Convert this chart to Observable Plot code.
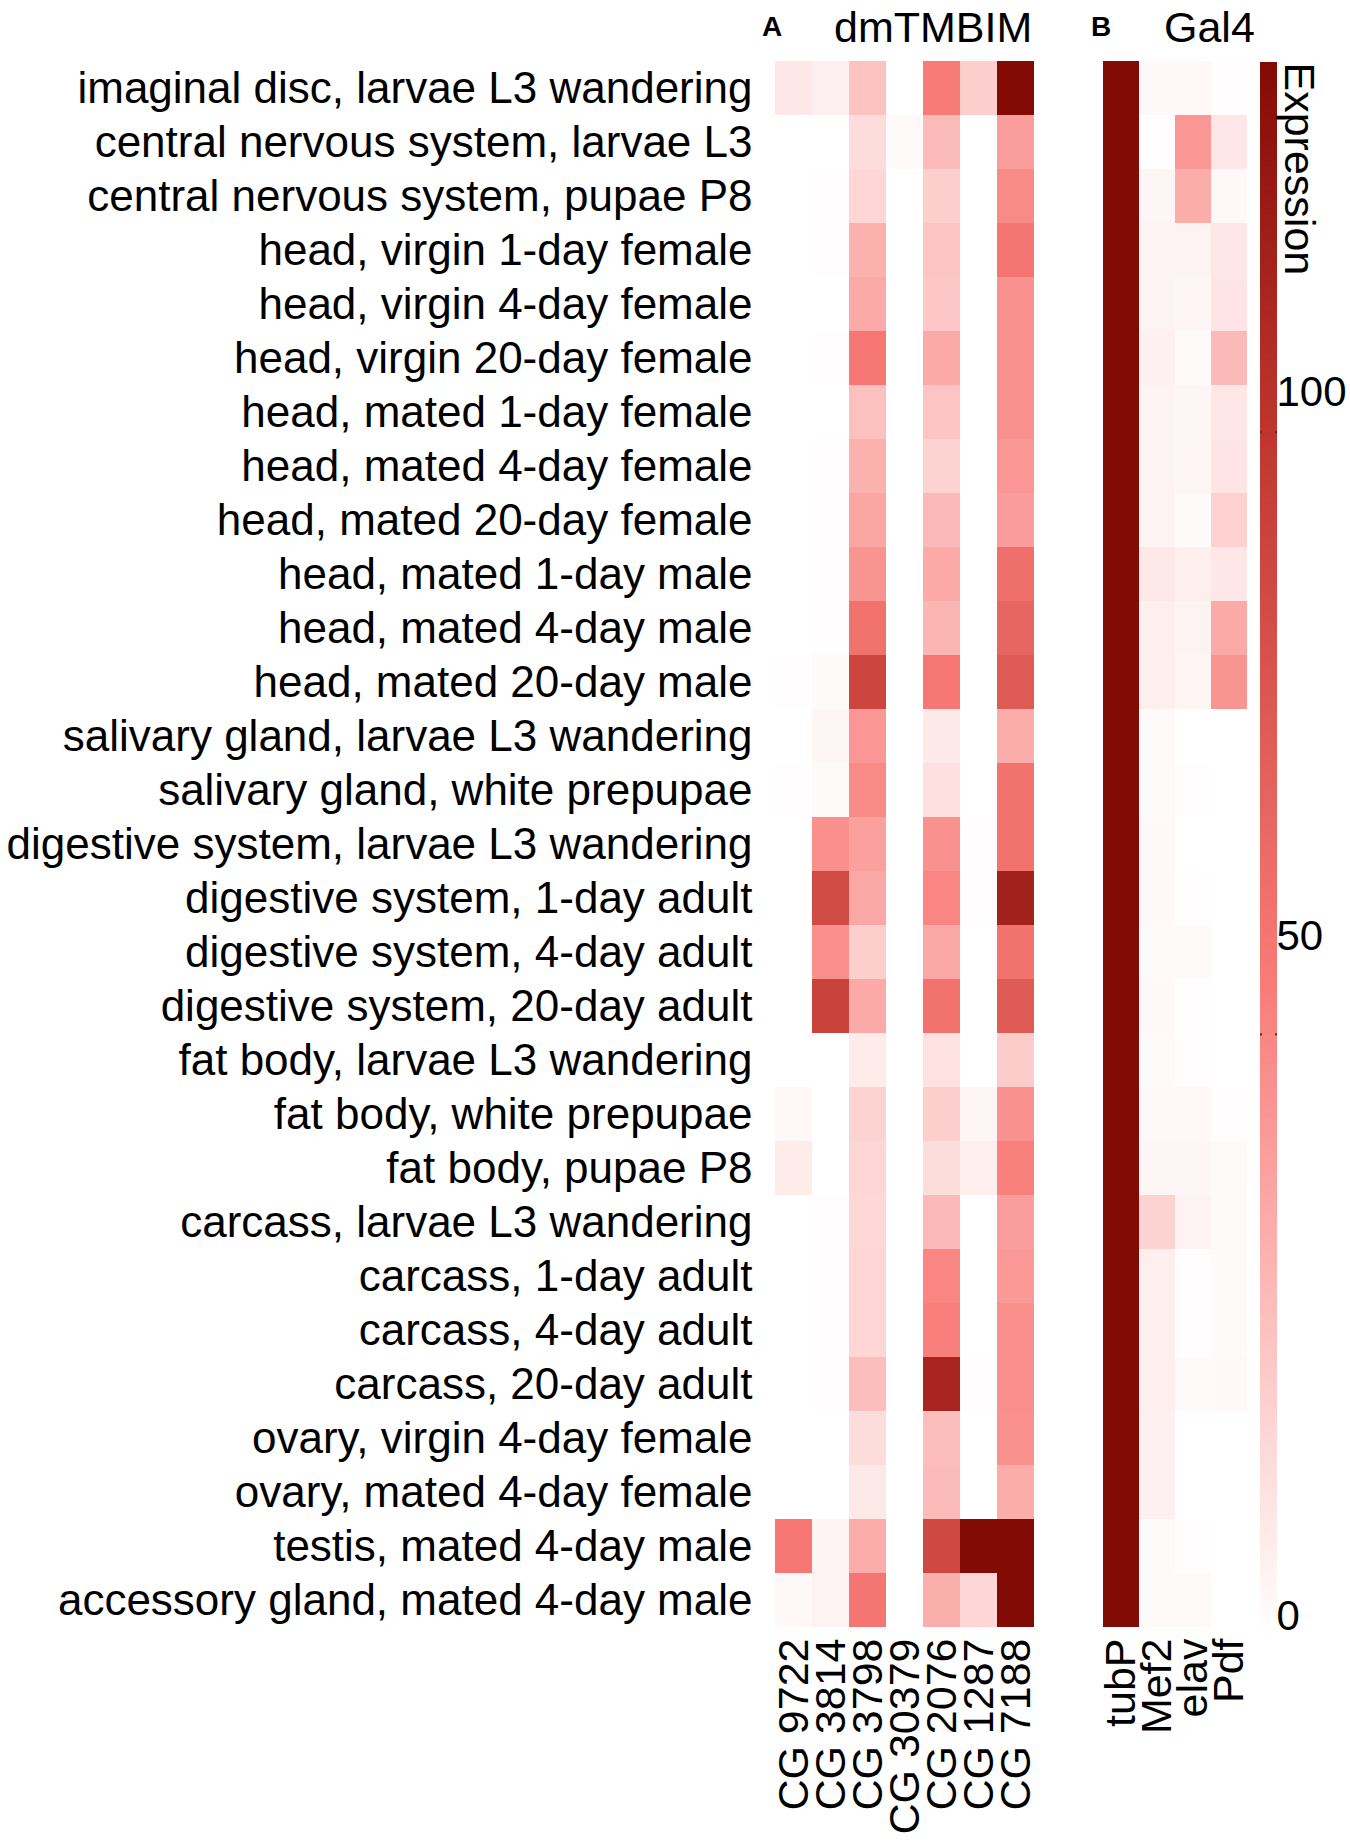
<!DOCTYPE html>
<html>
<head>
<meta charset="utf-8">
<script src="https://cdn.jsdelivr.net/npm/d3@7"></script>
<script src="https://cdn.jsdelivr.net/npm/@observablehq/plot@0.6"></script>
<style>
  html, body { margin: 0; padding: 0; background: #fff; }
  #wrap { position: relative; width: 1350px; height: 1842px; background: #fff; overflow: hidden;
          font-family: "Liberation Sans", Arial, sans-serif; color: #000; }
  .abs { position: absolute; line-height: 1; white-space: nowrap; color: #000; }
  .panel { position: absolute; top: 0; }
</style>
</head>
<body>
<div id="wrap"></div>
<script>
// ---------- data ----------
const tissues = [
  "imaginal disc, larvae L3 wandering",
  "central nervous system, larvae L3",
  "central nervous system, pupae P8",
  "head, virgin 1-day female",
  "head, virgin 4-day female",
  "head, virgin 20-day female",
  "head, mated 1-day female",
  "head, mated 4-day female",
  "head, mated 20-day female",
  "head, mated 1-day male",
  "head, mated 4-day male",
  "head, mated 20-day male",
  "salivary gland, larvae L3 wandering",
  "salivary gland, white prepupae",
  "digestive system, larvae L3 wandering",
  "digestive system, 1-day adult",
  "digestive system, 4-day adult",
  "digestive system, 20-day adult",
  "fat body, larvae L3 wandering",
  "fat body, white prepupae",
  "fat body, pupae P8",
  "carcass, larvae L3 wandering",
  "carcass, 1-day adult",
  "carcass, 4-day adult",
  "carcass, 20-day adult",
  "ovary, virgin 4-day female",
  "ovary, mated 4-day female",
  "testis, mated 4-day male",
  "accessory gland, mated 4-day male"
];

const genesA = ["CG 9722", "CG 3814", "CG 3798", "CG 30379", "CG 2076", "CG 1287", "CG 7188"];
const genesB = ["tubP", "Mef2", "elav", "Pdf"];

// expression per gene, in tissue order
const cg9722  = [10,0,0,0,0,0,0,0,0,0,0,1,0,1,0,0,0,0,0,3,8,0,0,0,0,0,0,57,3];
const cg3814  = [6,0,1,1,0,1,0,1,1,1,1,2,4,2,46,86,46,92,0,0,0,1,1,1,1,0,0,5,5];
const cg3798  = [25,14,17,32,35,57,26,32,37,44,60,90,43,48,39,36,20,35,8,18,17,16,17,17,27,14,9,34,58];
const cg30379 = [0,2,0,0,0,0,0,0,0,0,0,0,0,0,0,0,0,0,0,0,0,0,0,0,0,0,0,0,0];
const cg2076  = [55,28,20,24,23,35,24,18,29,35,30,57,9,13,45,50,36,60,12,20,14,29,50,53,112,27,28,88,33];
const cg1287  = [20,0,0,0,0,0,0,0,0,0,0,0,0,0,1,1,0,0,0,4,7,0,0,0,1,0,0,131,17];
const cg7188  = [131,40,48,58,45,45,45,43,41,62,68,76,34,60,60,115,60,75,21,45,52,40,42,46,46,45,34,131,131];

const tubP = [131,131,131,131,131,131,131,131,131,131,131,131,131,131,131,131,131,131,131,131,131,131,131,131,131,131,131,131,131];
const mef2 = [3,1,4,5,5,6,5,5,5,9,7,7,2,2,3,3,2,3,2,3,4,18,7,7,7,6,6,2,2];
const elav = [3,43,34,5,4,2,4,4,2,7,5,4,0,1,0,1,2,1,1,3,4,5,1,1,2,0,0,1,2];
const pdf  = [1,10,3,10,11,29,10,11,19,10,35,44,0,0,0,0,0,0,0,1,2,2,2,2,3,0,0,0,0];

const legendTicks = [0, 50, 100];
const legendMax = 130.7;
const legendTitle = "Expression";
const titleA = "dmTMBIM", tagA = "A";
const titleB = "Gal4", tagB = "B";

// ---------- tables ----------
const seriesA = [cg9722, cg3814, cg3798, cg30379, cg2076, cg1287, cg7188];
const seriesB = [tubP, mef2, elav, pdf];
function table(genes, series) {
  const out = [];
  tissues.forEach((t, i) => genes.forEach((g, j) => out.push({tissue: t, gene: g, value: series[j][i]})));
  return out;
}
const dataA = table(genesA, seriesA);
const dataB = table(genesB, seriesB);

// ---------- styling ----------
const FONT = '"Liberation Sans", Arial, Helvetica, sans-serif';
const colorOpts = {
  type: "linear",
  domain: [0, 55, 100, legendMax],
  range: ["#ffffff", "#f87a76", "#c0362f", "#830b05"],
  clamp: true
};
const TOP = 55, BOTTOM_MARGIN = 209, H = 1842;

const wrap = document.getElementById("wrap");
function place(el, left) {
  el.classList.add("panel");
  el.style.left = left + "px";
  wrap.appendChild(el);
}

// Panel A (with tissue labels)
const plotA = Plot.plot({
  width: 1050, height: H,
  marginLeft: 773, marginRight: 15, marginTop: TOP, marginBottom: BOTTOM_MARGIN,
  style: {fontFamily: FONT, fontSize: "43px", color: "#000", background: "transparent", overflow: "visible"},
  x: {domain: genesA, padding: 0},
  y: {domain: tissues, padding: 0},
  color: colorOpts,
  marks: [
    Plot.cell(dataA, {x: "gene", y: "tissue", fill: "value", inset: 0}),
    Plot.axisY({tickSize: 0, tickPadding: 21, fontSize: 44, label: null}),
    Plot.axisX({anchor: "bottom", tickSize: 0, tickPadding: 5, tickRotate: -90, fontSize: 43, label: null})
  ]
});
place(plotA, 0);

// Panel B
const plotB = Plot.plot({
  width: 164, height: H,
  marginLeft: 14, marginRight: 4, marginTop: TOP, marginBottom: BOTTOM_MARGIN,
  style: {fontFamily: FONT, fontSize: "43px", color: "#000", background: "transparent", overflow: "visible"},
  x: {domain: genesB, padding: 0},
  y: {domain: tissues, padding: 0, axis: null},
  color: colorOpts,
  marks: [
    Plot.cell(dataB, {x: "gene", y: "tissue", fill: "value", inset: 0}),
    Plot.axisX({anchor: "bottom", tickSize: 0, tickPadding: 5, tickRotate: -90, fontSize: 43, label: null})
  ]
});
place(plotB, 1088);

// Colour bar legend
const ramp = d3.range(0, legendMax, 0.5);
const labelShift = {0: -20, 50: -98, 100: -40};
const plotL = Plot.plot({
  width: 100, height: H,
  marginLeft: 10, marginRight: 73, marginTop: 62, marginBottom: 206,
  style: {fontFamily: FONT, fontSize: "42px", color: "#000", background: "transparent", overflow: "visible"},
  x: {domain: [0, 1], axis: null},
  y: {domain: [0, legendMax], axis: null},
  color: colorOpts,
  marks: [
    Plot.rect(ramp, {x1: 0, x2: 1, y1: d => d, y2: d => Math.min(legendMax, d + 0.6), fill: d => d + 0.25}),
    Plot.ruleY(legendTicks.filter(t => t > 0), {y: d => d, x1: 0, x2: 0.12, stroke: "#333", strokeWidth: 2}),
    Plot.ruleY(legendTicks.filter(t => t > 0), {y: d => d, x1: 0.88, x2: 1, stroke: "#333", strokeWidth: 2}),
    ...legendTicks.map(t => Plot.text([t], {
      x: 1, y: d => d, text: d => String(d), textAnchor: "start", dx: -1, dy: labelShift[t], fontSize: 42
    })),
    Plot.text([legendTitle], {
      x: 1, y: legendMax, text: d => d, rotate: 90, textAnchor: "start", lineAnchor: "bottom",
      dx: 7, dy: 0, fontSize: 43
    })
  ]
});
place(plotL, 1250);

// Panel titles
function label(text, left, top, size, bold) {
  const d = document.createElement("div");
  d.className = "abs";
  d.textContent = text;
  d.style.left = left + "px";
  d.style.top = top + "px";
  d.style.fontSize = size + "px";
  if (bold) d.style.fontWeight = "bold";
  wrap.appendChild(d);
}
label(tagA, 762, 13, 28, true);
label(titleA, 834, 6, 43, false);
label(tagB, 1091, 13, 28, true);
label(titleB, 1164, 6, 43, false);
</script>
</body>
</html>
